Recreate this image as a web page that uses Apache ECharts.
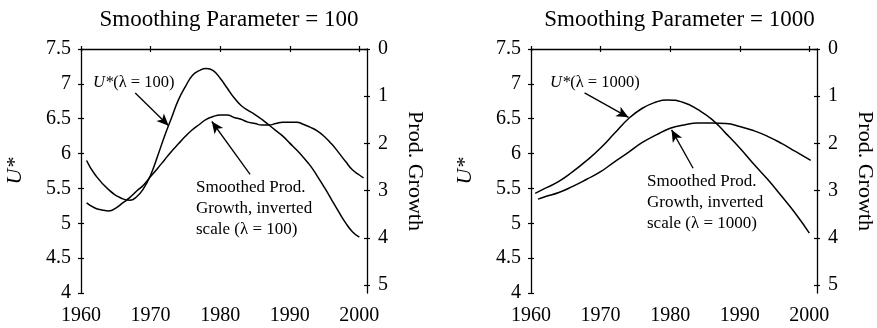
<!DOCTYPE html>
<html>
<head>
<meta charset="utf-8">
<script src="https://cdn.jsdelivr.net/npm/echarts@6/dist/echarts.min.js"></script>
<style>
  html, body { margin: 0; padding: 0; background: #fff; }
  #chart { width: 877px; height: 328px; }
</style>
</head>
<body>
<div id="chart"></div>
<script>
const yearTicks = [1960, 1970, 1980, 1990, 2000]
const prodTicks = [0, 1, 2, 3, 4, 5]
const titles = ['Smoothing Parameter = 100', 'Smoothing Parameter = 1000']

// lambda = 100 : U* (left scale) and smoothed productivity growth (right scale, inverted)
const uYears100 = [1960.8, 1962, 1964, 1966, 1967, 1968, 1969, 1970, 1971, 1972, 1973, 1974, 1975, 1976, 1977, 1978, 1979, 1980,
  1981, 1982, 1983, 1984, 1985, 1986, 1987, 1988, 1989, 1990, 1991, 1992, 1993, 1994, 1995, 1996, 1997, 1998, 1999, 2000]
const uStar100 = [5.90, 5.70, 5.48, 5.35, 5.33, 5.38, 5.50, 5.69, 5.96, 6.25, 6.51, 6.77, 6.96, 7.12, 7.19, 7.22, 7.19, 7.08,
  6.94, 6.80, 6.69, 6.62, 6.56, 6.49, 6.41, 6.33, 6.25, 6.15, 6.05, 5.94, 5.82, 5.67, 5.51, 5.34, 5.17, 5.01, 4.88, 4.80]
const prodYears100 = [1960.8, 1962, 1963, 1964, 1965, 1966, 1967, 1968, 1969, 1970, 1971, 1972, 1973, 1974, 1975, 1976, 1977,
  1978, 1979, 1980, 1981, 1982, 1983, 1984, 1985, 1986, 1987, 1988, 1989, 1990, 1991, 1992, 1993, 1994, 1995, 1996, 1997,
  1998, 1999, 2000, 2000.6]
const prod100 = [3.26, 3.37, 3.41, 3.43, 3.37, 3.26, 3.15, 3.01, 2.88, 2.70, 2.53, 2.35, 2.17, 2.01, 1.85, 1.71, 1.60,
  1.49, 1.43, 1.40, 1.40, 1.45, 1.49, 1.55, 1.58, 1.61, 1.61, 1.58, 1.55, 1.55, 1.55, 1.60, 1.66, 1.74, 1.86, 2.01, 2.19,
  2.38, 2.56, 2.67, 2.73]

// lambda = 1000
const uYears1000 = [1960.6, 1962, 1964, 1966, 1968, 1970, 1972, 1974, 1976, 1978, 1979.5, 1982, 1984, 1986, 1988, 1990,
  1992, 1994, 1996, 1998, 2000]
const uStar1000 = [5.43, 5.50, 5.60, 5.74, 5.90, 6.08, 6.29, 6.50, 6.65, 6.74, 6.77, 6.73, 6.63, 6.49, 6.29, 6.08,
  5.85, 5.63, 5.39, 5.14, 4.86]
const prodYears1000 = [1961, 1962, 1964, 1966, 1968, 1970, 1972, 1974, 1976, 1978, 1980, 1982, 1984, 1986, 1988, 1990,
  1992, 1994, 1996, 1998, 2000.2]
const prod1000 = [3.18, 3.13, 3.04, 2.91, 2.76, 2.60, 2.39, 2.19, 1.98, 1.82, 1.68, 1.61, 1.57, 1.57, 1.58, 1.64,
  1.73, 1.85, 2.00, 2.17, 2.36]

const FONT = 'Liberation Serif'
const INK = '#000'

const panels = [
  {
    grid: { left: 81, top: 49, width: 286, height: 244 },
    u: [uYears100, uStar100],
    p: [prodYears100, prod100],
    // arrows in data units of the left scale: [from, to]
    arrows: [[[1967.8, 6.87], [1972.6, 6.40]], [[1984.3, 5.70], [1978.8, 6.46]]],
    uLabel: { x: 93, y: 83, text: '(λ = 100)' },
    pLabel: { x: 196, y: 177, text: 'Smoothed Prod.\nGrowth, inverted\nscale (λ = 100)' }
  },
  {
    grid: { left: 531, top: 49, width: 287, height: 244 },
    u: [uYears1000, uStar1000],
    p: [prodYears1000, prod1000],
    arrows: [[[1967.7, 6.87], [1974.0, 6.52]], [[1983.3, 5.79], [1980.2, 6.34]]],
    uLabel: { x: 550, y: 83, text: '(λ = 1000)' },
    pLabel: { x: 647, y: 171, text: 'Smoothed Prod.\nGrowth, inverted\nscale (λ = 1000)' }
  }
]

const axisLine = { show: true, lineStyle: { color: INK, width: 1.3 } }
const tickLine = { color: INK, width: 1.2 }
const labelText = { color: INK, fontFamily: FONT, fontSize: 20, formatter: v => String(v) }

const option = {
  animation: false,
  backgroundColor: '#fff',
  title: [],
  grid: [],
  xAxis: [],
  yAxis: [],
  series: [],
  graphic: []
}

panels.forEach((pn, i) => {
  const g = pn.grid
  option.grid.push(g)
  option.title.push({
    text: titles[i],
    left: g.left + g.width / 2,
    top: 3,
    textAlign: 'center',
    textStyle: { color: INK, fontFamily: FONT, fontSize: 23, fontWeight: 'normal' }
  })

  // x axis: outside ticks + labels, then an overlay with inside ticks
  option.xAxis.push({
    type: 'value', gridIndex: i, position: 'bottom', min: 1960, max: 2001.1,
    axisLine: axisLine,
    axisTick: { show: true, customValues: yearTicks, length: 3, lineStyle: tickLine },
    axisLabel: Object.assign({ customValues: yearTicks, margin: 13 }, labelText),
    splitLine: { show: false }
  }, {
    type: 'value', gridIndex: i, position: 'bottom', min: 1960, max: 2001.1,
    axisLine: { show: false },
    axisTick: { show: true, inside: true, customValues: yearTicks, length: 3, lineStyle: tickLine },
    axisLabel: { show: false },
    splitLine: { show: false }
  })

  // left U* scale
  option.yAxis.push({
    type: 'value', gridIndex: i, position: 'left', min: 4, max: 7.5, interval: 0.5,
    name: 'U*', nameLocation: 'middle', nameGap: 55,
    nameTextStyle: { color: INK, fontFamily: FONT, fontSize: 22, fontStyle: 'italic' },
    axisLine: axisLine,
    axisTick: { show: true, length: 3, lineStyle: tickLine },
    axisLabel: Object.assign({ margin: 10 }, labelText),
    splitLine: { show: false }
  }, {
    type: 'value', gridIndex: i, position: 'left', min: 4, max: 7.5, interval: 0.5,
    axisLine: { show: false },
    axisTick: { show: true, inside: true, length: 3, lineStyle: tickLine },
    axisLabel: { show: false },
    splitLine: { show: false }
  })

  // right productivity growth scale, inverted
  option.yAxis.push({
    type: 'value', gridIndex: i, position: 'right', min: 0, max: 5.17, inverse: true,
    name: 'Prod. Growth', nameLocation: 'middle', nameGap: 37, nameRotate: -90,
    nameTextStyle: { color: INK, fontFamily: FONT, fontSize: 22 },
    axisLine: axisLine,
    axisTick: { show: true, customValues: prodTicks, length: 3, lineStyle: tickLine },
    axisLabel: Object.assign({ customValues: prodTicks, margin: 11 }, labelText),
    splitLine: { show: false }
  }, {
    type: 'value', gridIndex: i, position: 'right', min: 0, max: 5.17, inverse: true,
    axisLine: { show: false },
    axisTick: { show: true, inside: true, customValues: prodTicks, length: 3, lineStyle: tickLine },
    axisLabel: { show: false },
    splitLine: { show: false }
  })

  const lineStyle = { color: INK, width: 1.5 }
  option.series.push({
    type: 'line', xAxisIndex: 2 * i, yAxisIndex: 4 * i,
    data: pn.u[0].map((yr, k) => [yr, pn.u[1][k]]),
    smooth: 0.5, showSymbol: false, lineStyle: lineStyle, silent: true,
    markLine: {
      silent: true, animation: false,
      symbol: ['none', 'arrow'], symbolSize: [8, 12],
      label: { show: false },
      lineStyle: { color: INK, width: 1.3, type: 'solid' },
      data: pn.arrows.map(a => [{ coord: a[0] }, { coord: a[1] }])
    }
  }, {
    type: 'line', xAxisIndex: 2 * i, yAxisIndex: 4 * i + 2,
    data: pn.p[0].map((yr, k) => [yr, pn.p[1][k]]),
    smooth: 0.5, showSymbol: false, lineStyle: lineStyle, silent: true
  })

  option.graphic.push({
    type: 'text', x: pn.uLabel.x, y: pn.uLabel.y, silent: true,
    style: {
      text: '{i|U*}' + pn.uLabel.text,
      fill: INK, fontFamily: FONT, fontSize: 16.5,
      verticalAlign: 'middle',
      rich: { i: { fontStyle: 'italic', fontFamily: FONT, fontSize: 16.5, fill: INK } }
    }
  }, {
    type: 'text', x: pn.pLabel.x, y: pn.pLabel.y, silent: true,
    style: {
      text: pn.pLabel.text,
      fill: INK, fontFamily: FONT, fontSize: 17, lineHeight: 21,
      verticalAlign: 'top'
    }
  })
})

const myChart = echarts.init(document.getElementById('chart'))
myChart.setOption(option)
</script>
</body>
</html>
